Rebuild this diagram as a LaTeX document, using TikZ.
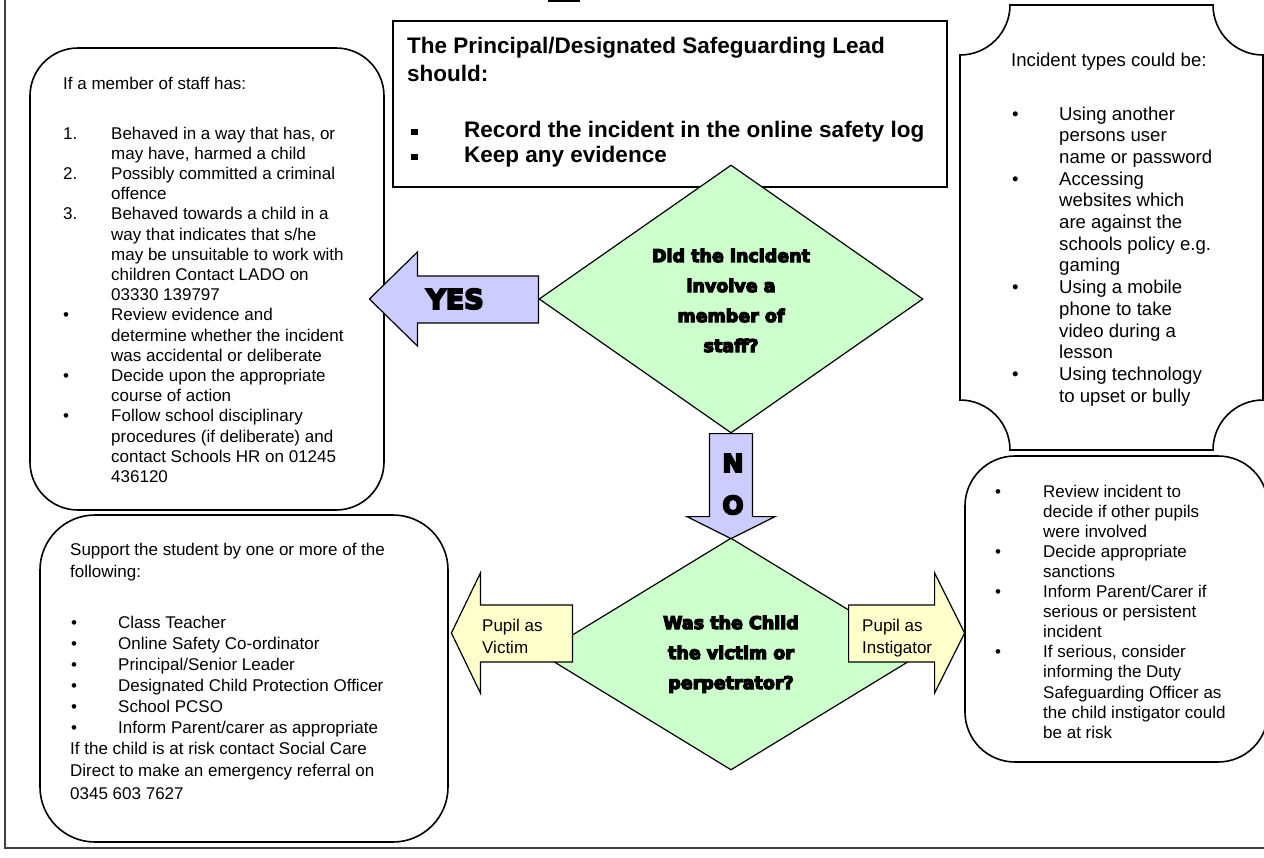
\documentclass[tikz,border=0pt]{standalone}
\usepackage{fontspec}
\usepackage{array}
\setmainfont{Liberation Sans}
\newfontface\heavyface{DejaVu Sans Bold}[FakeBold=7]
\usetikzlibrary{shapes.geometric}

\definecolor{lilac}{HTML}{CCCCFF}
\definecolor{mint}{HTML}{CCFFCC}
\definecolor{cream}{HTML}{FFFFCC}

\newcommand\bodyfont[1]{\fontsize{17}{#1}\selectfont}

\begin{document}
\begin{tikzpicture}[x=1pt, y=-1pt,
  box/.style={draw, line width=1.6pt, rounded corners=#1, inner sep=0pt},
  txt/.style={anchor=base west, inner sep=0pt},
  question/.style={diamond, draw, line width=1.2pt, fill=mint, inner sep=0pt},
  blockarrow/.style={draw, line width=1.2pt, line join=miter, fill=#1}
]
\useasboundingbox (0,0) rectangle (1264,857);

% page frame and the underline left from the heading
\draw[line width=1.2pt, black!75] (5,0) -- (5,848) -- (1264,848);
\draw[line width=2pt] (548,0.6) -- (580,0.6);

% boxes
\node[box=48pt, minimum width=354pt, minimum height=462pt] (staff) at (207,279) {};
\node[box=55pt, minimum width=408pt, minimum height=327pt] (support) at (244,678.5) {};
\node[box=50pt, minimum width=303pt, minimum height=306pt] (pupil) at (1116.5,609) {};
\node[draw, line width=1.8pt, minimum width=554pt, minimum height=166pt, inner sep=0pt] (lead) at (670,104) {};

% plaque with concave corners
\draw[line width=1.6pt] (1010,5) -- (1213,5)
  .. controls (1213,32.6) and (1235.4,55) .. (1263,55) -- (1263,400)
  .. controls (1235.4,400) and (1213,422.4) .. (1213,450) -- (1010,450)
  .. controls (1010,422.4) and (987.6,400) .. (960,400) -- (960,55)
  .. controls (987.6,55) and (1010,32.6) .. (1010,5) -- cycle;

% decisions
\node[question, minimum width=384pt, minimum height=268pt] (q1) at (731,299) {};
\node[question, minimum width=380pt, minimum height=232pt] (q2) at (731,654) {};

% block arrows
\draw[blockarrow=lilac] (q1.west) ++(0,-23) -- ++(-121,0) -- ++(0,-24) -- ++(-48,47)
  -- ++(48,47) -- ++(0,-23) -- ++(121,0) -- cycle;
\draw[blockarrow=lilac] (q1.south) ++(-21.5,0) -- ++(43,0) -- ++(0,83) -- ++(22.5,0)
  -- ++(-44,22) -- ++(-44,-22) -- ++(22.5,0) -- cycle;
\draw[blockarrow=cream] (q2.west) ++(32,-49) -- ++(-92,0) -- ++(0,-32) -- ++(-29,60)
  -- ++(29,60) -- ++(0,-31) -- ++(92,0) -- cycle;
\draw[blockarrow=cream] (q2.east) ++(-73,-49) -- ++(86,0) -- ++(0,-32) -- ++(30,60)
  -- ++(-30,60) -- ++(0,-31) -- ++(-86,0) -- cycle;

% arrow labels
\node[inner sep=0pt, font=\heavyface\fontsize{27}{30}\selectfont] (yes) at (455,299) {YES};
\node[inner sep=0pt, font=\heavyface\fontsize{25}{30}\selectfont] (n) at (733,463) {N};
\node[inner sep=0pt, font=\heavyface\fontsize{25}{30}\selectfont] (o) at (733,505) {O};
\node[txt, font=\bodyfont{22}] (victim) at (482,631)
  {\begin{tabular}[t]{@{}l@{}}Pupil as\\Victim\end{tabular}};
\begin{scope}
  \clip (848,606) rectangle (934,660.5);
  \node[txt, font=\bodyfont{22}] (instigator) at (862,631)
    {\begin{tabular}[t]{@{}l@{}}Pupil as\\Instigator\end{tabular}};
\end{scope}

% decision texts
\node[inner sep=0pt, font=\heavyface\fontsize{17.5}{30}\selectfont] (q1text) at (731,301)
  {\begin{tabular}{@{}c@{}}Did the incident\\involve a\\member of\\staff?\end{tabular}};
\node[inner sep=0pt, font=\heavyface\fontsize{17.5}{30}\selectfont] (q2text) at (731,653)
  {\begin{tabular}{@{}c@{}}Was the Child\\the victim or\\perpetrator?\end{tabular}};

% lead box
\node[txt, font=\fontsize{22.5}{28}\selectfont\bfseries] (leadhead) at (407,53)
  {\begin{tabular}[t]{@{}l@{}}The Principal/Designated Safeguarding Lead\\should:\end{tabular}};
\node[txt, font=\fontsize{22.5}{25}\selectfont\bfseries] (leadlist) at (411,137)
  {\begin{tabular}[t]{@{}w{l}{53pt}@{}l@{}}
  \rule[2pt]{6.5pt}{6.5pt} & Record the incident in the online safety log\\
  \rule[2pt]{6.5pt}{6.5pt} & Keep any evidence
  \end{tabular}};

% staff box
\node[txt, font=\bodyfont{20.2}] (staffhead) at (63,89) {If a member of staff has:};
\node[txt, font=\bodyfont{20.2}] (stafflist) at (63,139)
  {\begin{tabular}[t]{@{}w{l}{48pt}@{}l@{}}
  1. & Behaved in a way that has, or\\
     & may have, harmed a child\\
  2. & Possibly committed a criminal\\
     & offence\\
  3. & Behaved towards a child in a\\
     & way that indicates that s/he\\
     & may be unsuitable to work with\\
     & children Contact LADO on\\
     & 03330 139797\\
  \textbullet & Review evidence and\\
     & determine whether the incident\\
     & was accidental or deliberate\\
  \textbullet & Decide upon the appropriate\\
     & course of action\\
  \textbullet & Follow school disciplinary\\
     & procedures (if deliberate) and\\
     & contact Schools HR on 01245\\
     & 436120
  \end{tabular}};

% incident types
\node[txt, font=\fontsize{18.6}{21.7}\selectfont] (typeshead) at (1011,66) {Incident types could be:};
\node[txt, font=\fontsize{18.6}{21.7}\selectfont] (typeslist) at (1012,120)
  {\begin{tabular}[t]{@{}w{l}{47pt}@{}l@{}}
  \textbullet & Using another\\
     & persons user\\
     & name or password\\
  \textbullet & Accessing\\
     & websites which\\
     & are against the\\
     & schools policy e.g.\\
     & gaming\\
  \textbullet & Using a mobile\\
     & phone to take\\
     & video during a\\
     & lesson\\
  \textbullet & Using technology\\
     & to upset or bully
  \end{tabular}};

% instigator actions
\node[txt, font=\bodyfont{20.1}] (pupillist) at (995,497)
  {\begin{tabular}[t]{@{}w{l}{48pt}@{}l@{}}
  \textbullet & Review incident to\\
     & decide if other pupils\\
     & were involved\\
  \textbullet & Decide appropriate\\
     & sanctions\\
  \textbullet & Inform Parent/Carer if\\
     & serious or persistent\\
     & incident\\
  \textbullet & If serious, consider\\
     & informing the Duty\\
     & Safeguarding Officer as\\
     & the child instigator could\\
     & be at risk
  \end{tabular}};

% victim support
\node[txt, font=\bodyfont{22.3}] (supporthead) at (70,555)
  {\begin{tabular}[t]{@{}l@{}}Support the student by one or more of the\\following:\end{tabular}};
\node[txt, font=\bodyfont{21}] (supportlist) at (71,628)
  {\begin{tabular}[t]{@{}w{l}{47pt}@{}l@{}}
  \textbullet & Class Teacher\\
  \textbullet & Online Safety Co-ordinator\\
  \textbullet & Principal/Senior Leader\\
  \textbullet & Designated Child Protection Officer\\
  \textbullet & School PCSO\\
  \textbullet & Inform Parent/carer as appropriate
  \end{tabular}};
\node[txt, font=\bodyfont{22.5}] (supportnote) at (70,754)
  {\begin{tabular}[t]{@{}l@{}}If the child is at risk contact Social Care\\
  Direct to make an emergency referral on\\0345 603 7627\end{tabular}};
\end{tikzpicture}
\end{document}
